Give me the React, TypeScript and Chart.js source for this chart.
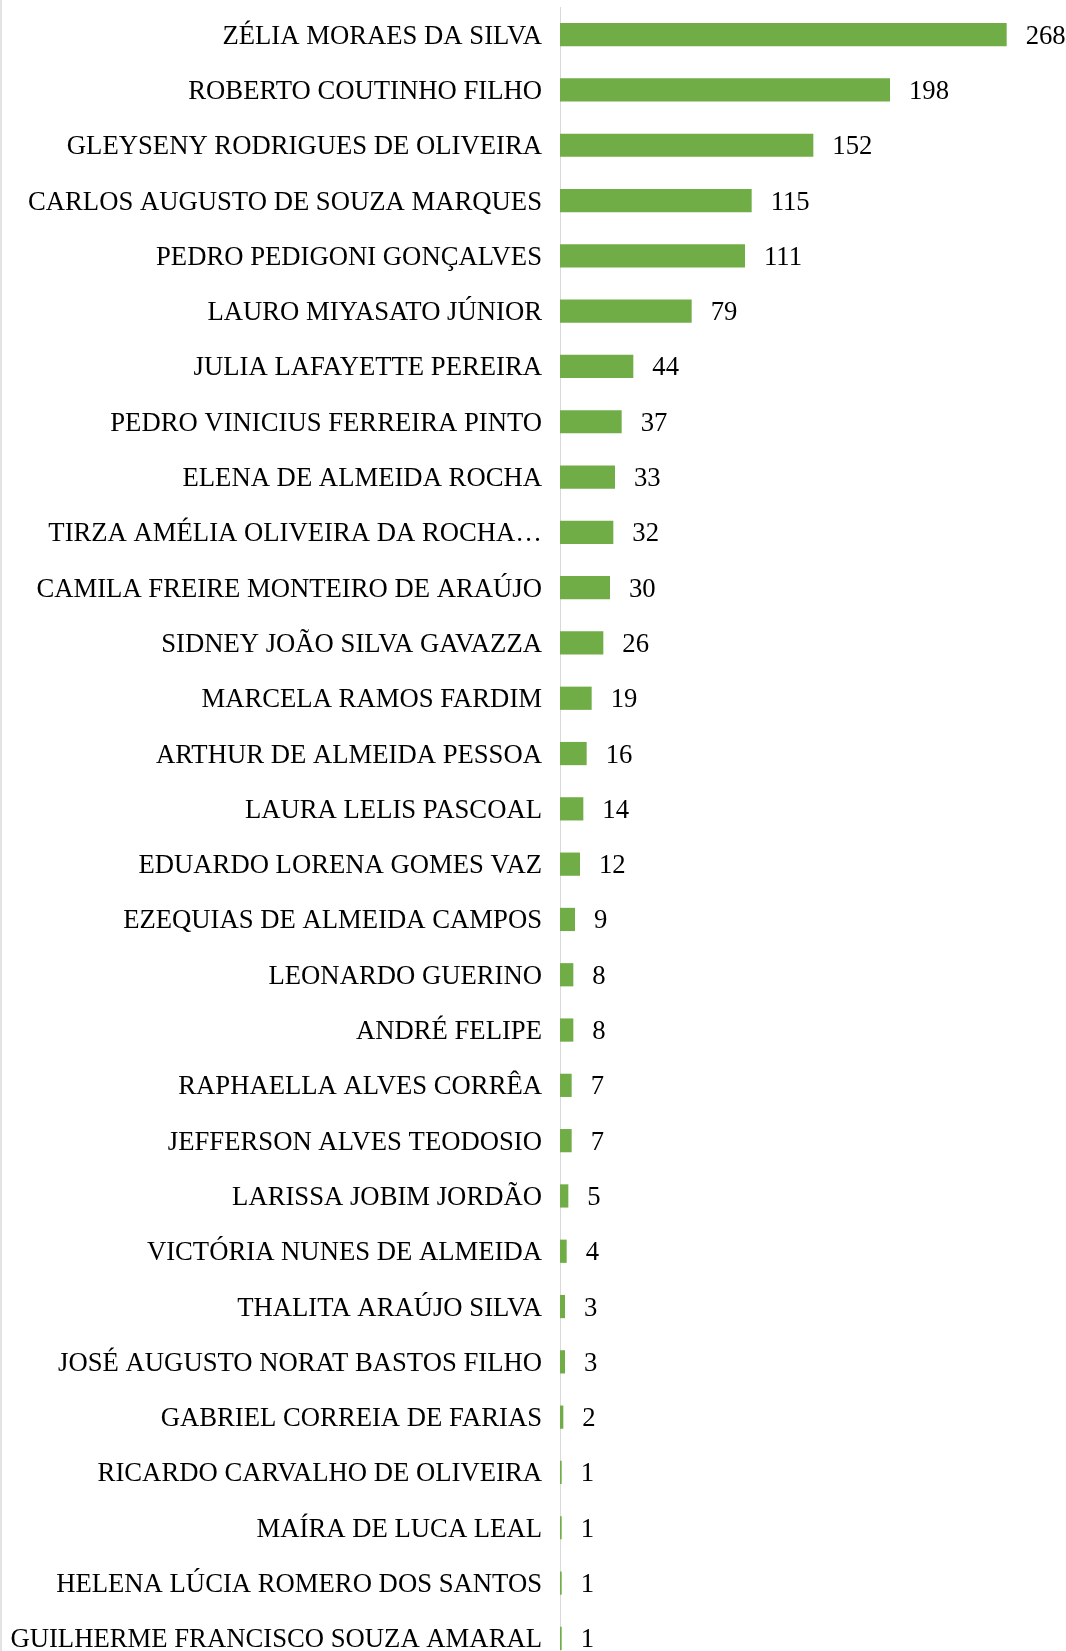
import React, { useEffect, useRef } from "react";
import { Chart, registerables } from "chart.js";

Chart.register(...registerables);

const categories: string[] = [
  "ZÉLIA MORAES DA SILVA",
  "ROBERTO COUTINHO FILHO",
  "GLEYSENY RODRIGUES DE OLIVEIRA",
  "CARLOS AUGUSTO DE SOUZA MARQUES",
  "PEDRO PEDIGONI GONÇALVES",
  "LAURO MIYASATO JÚNIOR",
  "JULIA LAFAYETTE PEREIRA",
  "PEDRO VINICIUS FERREIRA PINTO",
  "ELENA DE ALMEIDA ROCHA",
  "TIRZA AMÉLIA OLIVEIRA DA ROCHA…",
  "CAMILA FREIRE MONTEIRO DE ARAÚJO",
  "SIDNEY JOÃO SILVA GAVAZZA",
  "MARCELA RAMOS FARDIM",
  "ARTHUR DE ALMEIDA PESSOA",
  "LAURA LELIS PASCOAL",
  "EDUARDO LORENA GOMES VAZ",
  "EZEQUIAS DE ALMEIDA CAMPOS",
  "LEONARDO GUERINO",
  "ANDRÉ FELIPE",
  "RAPHAELLA ALVES CORRÊA",
  "JEFFERSON ALVES TEODOSIO",
  "LARISSA JOBIM JORDÃO",
  "VICTÓRIA NUNES DE ALMEIDA",
  "THALITA ARAÚJO SILVA",
  "JOSÉ AUGUSTO NORAT BASTOS FILHO",
  "GABRIEL CORREIA DE FARIAS",
  "RICARDO CARVALHO DE OLIVEIRA",
  "MAÍRA DE LUCA LEAL",
  "HELENA LÚCIA ROMERO DOS SANTOS",
  "GUILHERME FRANCISCO SOUZA AMARAL",
];

const values: number[] = [
  268, 198, 152, 115, 111, 79, 44, 37, 33, 32, 30, 26, 19, 16, 14, 12, 9, 8, 8,
  7, 7, 5, 4, 3, 3, 2, 1, 1, 1, 1,
];

const FONT = "'Liberation Serif', 'Times New Roman', serif";

const valueLabels = {
  id: "valueLabels",
  afterDatasetsDraw(chart: any) {
    const ctx = chart.ctx;
    const meta = chart.getDatasetMeta(0);
    ctx.save();
    ctx.font = `26.7px ${FONT}`;
    ctx.fillStyle = "#000000";
    ctx.textAlign = "left";
    ctx.textBaseline = "middle";
    meta.data.forEach((bar: any, i: number) => {
      ctx.fillText(String(values[i]), bar.x + 19, bar.y + 2);
    });
    ctx.restore();
  },
};

export default function App() {
  const ref = useRef<HTMLCanvasElement | null>(null);
  useEffect(() => {
    if (!ref.current) return;
    const chart = new Chart(ref.current, {
      type: "bar",
      data: {
        labels: categories,
        datasets: [
          {
            data: values,
            backgroundColor: "#70AD47",
            borderWidth: 0,
            barPercentage: 0.42,
            categoryPercentage: 1,
          },
        ],
      },
      options: {
        indexAxis: "y",
        animation: false,
        responsive: false,
        maintainAspectRatio: false,
        layout: { padding: { top: 7, right: 6, bottom: 0, left: 0 } },
        plugins: {
          legend: { display: false },
          tooltip: { enabled: false },
        },
        scales: {
          x: {
            display: false,
            min: 0,
            max: 300,
          },
          y: {
            afterFit: (scale: any) => {
              scale.width = 560;
              scale.paddingTop = 0;
              scale.paddingBottom = 0;
            },
            grid: { display: false, drawTicks: false },
            border: { display: true, color: "#d9d9d9", width: 1 },
            ticks: {
              padding: 18,
              labelOffset: 2,
              color: "#000000",
              font: { family: FONT, size: 26.7 },
              autoSkip: false,
            },
          },
        },
      },
      plugins: [valueLabels],
    });
    return () => chart.destroy();
  }, []);
  return (
    <div
      style={{
        position: "fixed",
        left: 0,
        top: 0,
        width: 1066,
        height: 1651,
        overflow: "hidden",
        background: "#fff",
      }}
    >
      <canvas ref={ref} width={1066} height={1666} style={{ display: "block", width: 1066, height: 1666 }} />
      <div style={{ position: "absolute", left: 0, top: 0, width: 2, height: 1651, background: "#e3e3e3" }} />
    </div>
  );
}
